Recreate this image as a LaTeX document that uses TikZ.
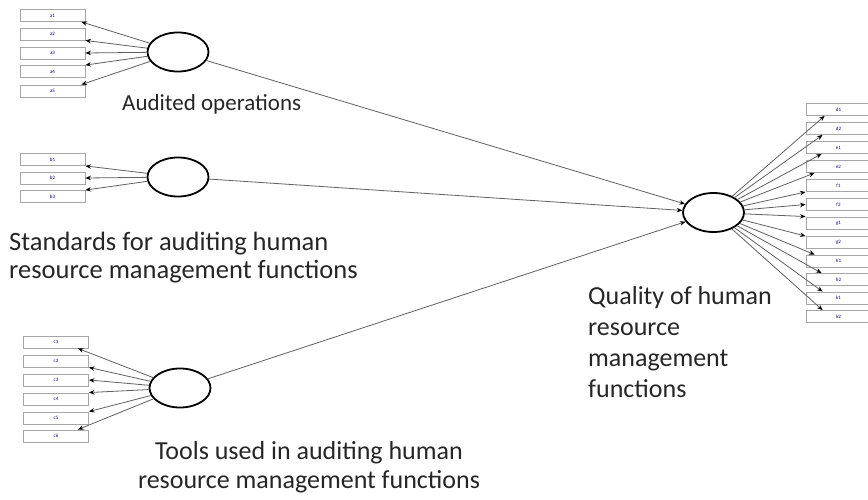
\documentclass[tikz,border=0pt]{standalone}
\usepackage{fontspec}
\setmainfont{Carlito}
\usetikzlibrary{shapes.geometric,arrows.meta,calc}
\tikzset{
  ind/.style={draw=gray!70, line width=0.9pt, fill=white, minimum width=65pt,
    minimum height=12pt, inner sep=0pt, font=\fontsize{5}{6}\selectfont, text=blue!45!black},
  lat/.style={ellipse, draw=black, line width=1.8pt, minimum width=61pt,
    minimum height=39pt, inner sep=0pt, fill=white},
  link/.style={draw=gray!75!black, line width=0.8pt, -{Stealth[length=5.5pt,width=4.5pt,black]}},
  lbl/.style={inner sep=0pt, text=black!85, font=\fontsize{26}{29}\selectfont}
}
\begin{document}
\begin{tikzpicture}[x=1pt,y=-1pt]
\useasboundingbox (0,0) rectangle (868,500);
\clip (0,0) rectangle (868,500);

% indicator boxes
\foreach \n/\y in {a1/15.5,a2/34,a3/53,a4/71.5,a5/91}
  \node[ind] (\n) at (52.5,\y) {\n};
\foreach \n/\y in {b1/159.5,b2/178,b3/196.5}
  \node[ind] (\n) at (52.5,\y) {\n};
\foreach \n/\y in {c1/342,c2/361,c3/380,c4/399,c5/418,c6/436}
  \node[ind] (\n) at (56,\y) {\n};
\foreach \n/\y in {d1/109.5,d2/128.5,e1/147.5,e2/166.5,f1/185.5,f2/204.5,
                   g1/223,g2/242.5,h1/261,h2/279.5,k1/298,k2/316.5}
  \node[ind] (\n) at (838.5,\y) {\n};

% latent variables
\node[lat] (A) at (178,52) {};
\node[lat] (B) at (178,177) {};
\node[lat] (C) at (180,388) {};
\node[lat] (D) at (713.5,212.5) {};

% loadings of the first construct
\draw[link] (A) -- ($(a1.south east)+(-4,0)$);
\draw[link] (A) -- (a2.south east);
\draw[link] (A) -- (a3.east);
\draw[link] (A) -- (a4.north east);
\draw[link] (A) -- ($(a5.north east)+(-4,0)$);

\draw[link] (B) -- (b1.south east);
\draw[link] (B) -- (b2.east);
\draw[link] (B) -- (b3.north east);

\draw[link] (C) -- ($(c1.south east)+(-11,0)$);
\draw[link] (C) -- (c2.south east);
\draw[link] (C) -- (c3.east);
\draw[link] (C) -- (c4.north east);
\draw[link] (C) -- (c5.north east);
\draw[link] (C) -- ($(c6.north east)+(-11,0)$);

% loadings of the dependent construct
\draw[link] (D) -- ($(d1.south west)+(19,0)$);
\draw[link] (D) -- ($(d2.south west)+(17,0)$);
\draw[link] (D) -- ($(e1.south west)+(16,0)$);
\draw[link] (D) -- ($(e2.south west)+(9,0)$);
\draw[link] (D) -- (f1.south west);
\draw[link] (D) -- (f2.west);
\draw[link] (D) -- (g1.north west);
\draw[link] (D) -- (g2.north west);
\draw[link] (D) -- ($(h1.north west)+(9,0)$);
\draw[link] (D) -- ($(h2.north west)+(16,0)$);
\draw[link] (D) -- ($(k1.north west)+(17,0)$);
\draw[link] (D) -- ($(k2.north west)+(17,0)$);

% structural paths
\draw[link] (A) -- (D);
\draw[link] (B) -- (D);
\draw[link] (C) -- (D);

% construct labels
\node[lbl, anchor=base west, font=\fontsize{23}{27}\selectfont] (tA) at (122,111) {Audited operations};
\node[lbl, anchor=north west, align=left, font=\fontsize{26.5}{28}\selectfont] (tB) at (9,232) {Standards for auditing human\\resource management functions};
\node[lbl, anchor=north west, align=left, font=\fontsize{26}{31}\selectfont] (tD) at (588,286) {Quality of human\\resource\\management\\functions};
\node[lbl, anchor=north, align=center] (tC) at (309,441) {Tools used in auditing human\\resource management functions};
\end{tikzpicture}
\end{document}
